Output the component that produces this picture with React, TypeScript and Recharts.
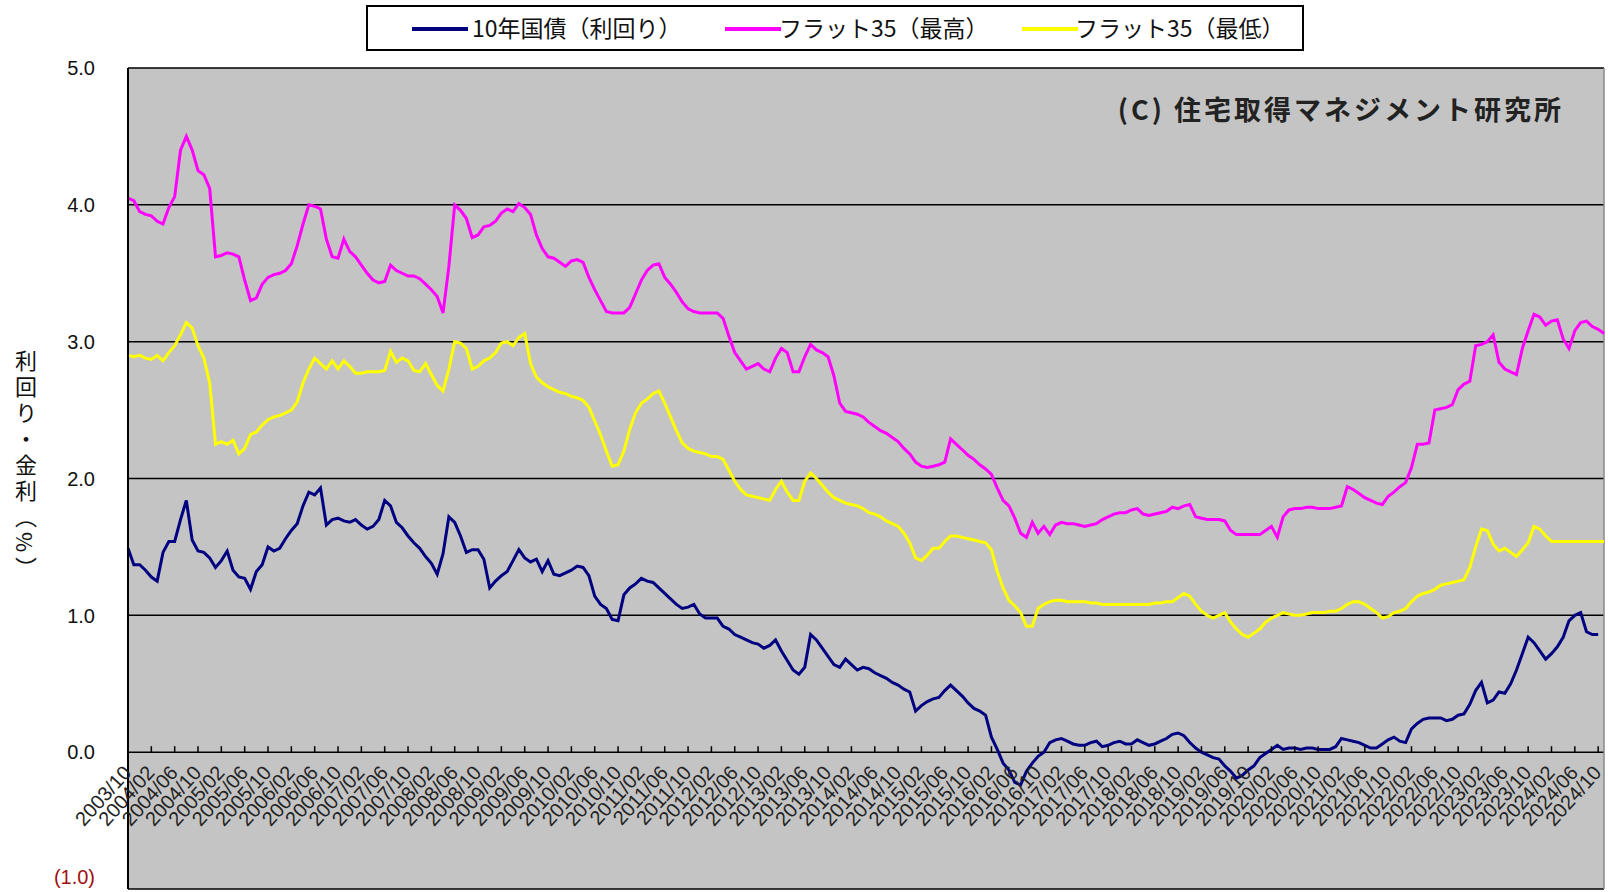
import { CartesianGrid, Line, LineChart, ReferenceLine, XAxis, YAxis } from "recharts";

// monthly categories, 2003/10 .. 2024/11
const months: string[] = [];
for (let i = 0; i < 254; i++) {
  const k = 9 + i;
  const y = 2003 + Math.floor(k / 12);
  const mo = (k % 12) + 1;
  months.push(`${y}/${mo < 10 ? "0" + mo : mo}`);
}

// 10年国債（利回り）
const bond = [
  1.49, 1.37, 1.37, 1.33, 1.28, 1.25, 1.46, 1.54, 1.54, 1.70, 1.84, 1.55,
  1.47, 1.46, 1.42, 1.35, 1.40, 1.47, 1.33, 1.28, 1.27, 1.19, 1.32, 1.37,
  1.50, 1.47, 1.49, 1.56, 1.62, 1.67, 1.80, 1.90, 1.88, 1.93, 1.66, 1.70,
  1.71, 1.69, 1.68, 1.70, 1.66, 1.63, 1.65, 1.70, 1.84, 1.80, 1.68, 1.64,
  1.58, 1.53, 1.49, 1.43, 1.38, 1.30, 1.45, 1.72, 1.68, 1.58, 1.46, 1.48,
  1.48, 1.41, 1.20, 1.25, 1.29, 1.32, 1.40, 1.48, 1.42, 1.39, 1.41, 1.32,
  1.40, 1.30, 1.29, 1.31, 1.33, 1.36, 1.35, 1.29, 1.14, 1.08, 1.05, 0.97,
  0.96, 1.15, 1.20, 1.23, 1.27, 1.25, 1.24, 1.20, 1.16, 1.12, 1.08, 1.05,
  1.06, 1.08, 1.01, 0.98, 0.98, 0.98, 0.92, 0.90, 0.86, 0.84, 0.82, 0.80,
  0.79, 0.76, 0.78, 0.82, 0.74, 0.67, 0.60, 0.57, 0.62, 0.86, 0.82, 0.76,
  0.70, 0.64, 0.62, 0.68, 0.64, 0.60, 0.62, 0.61, 0.58, 0.56, 0.54, 0.51,
  0.49, 0.46, 0.44, 0.30, 0.34, 0.37, 0.39, 0.40, 0.45, 0.49, 0.45, 0.41,
  0.36, 0.32, 0.30, 0.27, 0.11, 0.02, -0.08, -0.13, -0.22, -0.24, -0.14, -0.08,
  -0.03, 0.00, 0.07, 0.09, 0.10, 0.08, 0.06, 0.05, 0.05, 0.07, 0.08, 0.04,
  0.05, 0.07, 0.08, 0.06, 0.06, 0.09, 0.07, 0.05, 0.06, 0.08, 0.10, 0.13,
  0.14, 0.12, 0.07, 0.03, 0.00, -0.02, -0.04, -0.05, -0.10, -0.14, -0.19, -0.17,
  -0.13, -0.10, -0.04, -0.01, 0.02, 0.05, 0.02, 0.03, 0.03, 0.02, 0.03, 0.03,
  0.02, 0.02, 0.02, 0.04, 0.10, 0.09, 0.08, 0.07, 0.05, 0.03, 0.03, 0.06,
  0.09, 0.11, 0.08, 0.07, 0.17, 0.21, 0.24, 0.25, 0.25, 0.25, 0.23, 0.24,
  0.27, 0.28, 0.35, 0.45, 0.51, 0.36, 0.38, 0.44, 0.43, 0.50, 0.60, 0.72,
  0.84, 0.80, 0.74, 0.68, 0.72, 0.77, 0.84, 0.96, 1.00, 1.02, 0.88, 0.86,
  0.86,
];

// フラット35（最高）
const high = [
  4.05, 4.03, 3.95, 3.93, 3.92, 3.88, 3.86, 3.98, 4.06, 4.40, 4.50, 4.40,
  4.25, 4.22, 4.12, 3.62, 3.63, 3.65, 3.64, 3.62, 3.45, 3.30, 3.32, 3.42,
  3.47, 3.49, 3.50, 3.52, 3.57, 3.70, 3.86, 4.00, 3.99, 3.97, 3.75, 3.62,
  3.61, 3.75, 3.66, 3.62, 3.56, 3.50, 3.45, 3.43, 3.44, 3.56, 3.52, 3.50,
  3.48, 3.48, 3.46, 3.42, 3.38, 3.33, 3.21, 3.55, 4.00, 3.96, 3.90, 3.76,
  3.78, 3.84, 3.85, 3.88, 3.94, 3.97, 3.95, 4.01, 3.98, 3.93, 3.78, 3.68,
  3.62, 3.61, 3.58, 3.55, 3.59, 3.60, 3.58, 3.47, 3.38, 3.30, 3.22, 3.21,
  3.21, 3.21, 3.25, 3.35, 3.45, 3.52, 3.56, 3.57, 3.47, 3.42, 3.36, 3.29,
  3.24, 3.22, 3.21, 3.21, 3.21, 3.21, 3.17, 3.04, 2.92, 2.86, 2.80, 2.82,
  2.84, 2.80, 2.78, 2.88, 2.95, 2.92, 2.78, 2.78, 2.89, 2.98, 2.94, 2.92,
  2.89, 2.75, 2.55, 2.49, 2.48, 2.47, 2.45, 2.41, 2.38, 2.35, 2.33, 2.30,
  2.27, 2.22, 2.18, 2.12, 2.09, 2.08, 2.09, 2.10, 2.12, 2.29, 2.25, 2.21,
  2.17, 2.14, 2.10, 2.07, 2.03, 1.93, 1.84, 1.80, 1.71, 1.60, 1.57, 1.68,
  1.60, 1.65, 1.59, 1.66, 1.68, 1.67, 1.67, 1.66, 1.65, 1.66, 1.67, 1.70,
  1.72, 1.74, 1.75, 1.75, 1.77, 1.78, 1.74, 1.73, 1.74, 1.75, 1.76, 1.79,
  1.78, 1.80, 1.81, 1.72, 1.71, 1.70, 1.70, 1.70, 1.69, 1.62, 1.59, 1.59,
  1.59, 1.59, 1.59, 1.62, 1.65, 1.57, 1.72, 1.77, 1.78, 1.78, 1.79, 1.79,
  1.78, 1.78, 1.78, 1.79, 1.80, 1.94, 1.92, 1.89, 1.86, 1.84, 1.82, 1.81,
  1.87, 1.90, 1.94, 1.97, 2.08, 2.25, 2.25, 2.26, 2.50, 2.51, 2.52, 2.54,
  2.65, 2.69, 2.71, 2.97, 2.98, 3.00, 3.05, 2.85, 2.80, 2.78, 2.76, 2.95,
  3.08, 3.20, 3.18, 3.12, 3.15, 3.16, 3.02, 2.95, 3.08, 3.14, 3.15, 3.11,
  3.09, 3.06,
];

// フラット35（最低）
const low = [
  2.90, 2.89, 2.90, 2.88, 2.87, 2.90, 2.86, 2.92, 2.97, 3.05, 3.14, 3.10,
  2.97, 2.88, 2.70, 2.25, 2.27, 2.25, 2.28, 2.18, 2.22, 2.32, 2.34, 2.39,
  2.43, 2.45, 2.46, 2.48, 2.50, 2.56, 2.70, 2.80, 2.88, 2.84, 2.80, 2.86,
  2.80, 2.86, 2.82, 2.77, 2.77, 2.78, 2.78, 2.78, 2.79, 2.93, 2.85, 2.88,
  2.86, 2.79, 2.78, 2.84, 2.76, 2.68, 2.64, 2.80, 3.00, 2.99, 2.95, 2.80,
  2.82, 2.86, 2.88, 2.92, 2.99, 3.00, 2.97, 3.03, 3.06, 2.84, 2.74, 2.70,
  2.67, 2.65, 2.63, 2.62, 2.60, 2.59, 2.57, 2.52, 2.42, 2.32, 2.20, 2.09,
  2.10, 2.20, 2.36, 2.48, 2.55, 2.58, 2.62, 2.64, 2.55, 2.45, 2.35, 2.26,
  2.22, 2.20, 2.19, 2.18, 2.16, 2.16, 2.14, 2.06, 1.98, 1.92, 1.88, 1.87,
  1.86, 1.85, 1.84, 1.92, 1.98, 1.90, 1.84, 1.84, 1.98, 2.04, 2.00, 1.95,
  1.90, 1.86, 1.84, 1.82, 1.81, 1.80, 1.78, 1.75, 1.74, 1.72, 1.69, 1.67,
  1.65, 1.60, 1.53, 1.42, 1.40, 1.44, 1.49, 1.49, 1.54, 1.58, 1.58, 1.57,
  1.56, 1.55, 1.54, 1.53, 1.48, 1.32, 1.20, 1.11, 1.07, 1.02, 0.92, 0.92,
  1.05, 1.08, 1.10, 1.11, 1.11, 1.10, 1.10, 1.10, 1.10, 1.09, 1.09, 1.08,
  1.08, 1.08, 1.08, 1.08, 1.08, 1.08, 1.08, 1.08, 1.09, 1.09, 1.10, 1.10,
  1.13, 1.16, 1.14, 1.08, 1.03, 1.00, 0.98, 1.00, 1.02, 0.95, 0.90, 0.86,
  0.84, 0.87, 0.90, 0.95, 0.98, 1.00, 1.02, 1.01, 1.00, 1.00, 1.01, 1.02,
  1.02, 1.02, 1.03, 1.03, 1.05, 1.08, 1.10, 1.10, 1.08, 1.05, 1.02, 0.98,
  0.99, 1.02, 1.03, 1.05, 1.10, 1.14, 1.16, 1.17, 1.19, 1.22, 1.23, 1.24,
  1.25, 1.26, 1.35, 1.50, 1.63, 1.62, 1.52, 1.47, 1.49, 1.46, 1.43, 1.48,
  1.53, 1.65, 1.63, 1.58, 1.54, 1.54, 1.54, 1.54, 1.54, 1.54, 1.54, 1.54,
  1.54, 1.54,
];

const yTicks = [-1, 0, 1, 2, 3, 4, 5];

const seriesNames = ["10年国債（利回り）", "フラット35（最高）", "フラット35（最低）"];
const seriesColors = ["#000080", "#ff00ff", "#ffff00"];

const data = months.map((m, i) => ({
  m,
  bond: bond[i] ?? null,
  high: high[i] ?? null,
  low: low[i] ?? null,
}));

const W = 1608;
const H = 892;
const TOP = 68;
const BOTTOM = 1;
const X_H = 2;
const PLOT_H = H - TOP - BOTTOM - X_H;
const ZERO_Y = TOP + (PLOT_H * 5) / 6; // category axis crosses at 0.0

const fmtY = (v: number) => (v < 0 ? `(${Math.abs(v).toFixed(1)})` : v.toFixed(1));

function YTick(props: any) {
  const { x, y, payload } = props;
  const v = payload.value as number;
  return (
    <text
      x={x}
      y={v < 0 ? y - 12 : y}
      dy="0.36em"
      textAnchor="end"
      fontSize={20}
      fontFamily="Liberation Sans, sans-serif"
      fill={v < 0 ? "#a01010" : "#111"}
    >
      {fmtY(v)}
    </text>
  );
}

function XTick(props: any) {
  const { x, payload } = props;
  const ty = ZERO_Y + 12;
  const tx = x - 6;
  return (
    <g>
      <line x1={x} x2={x} y1={ZERO_Y} y2={ZERO_Y - 6} stroke="#000" strokeWidth={1.5} />
      <text
        x={tx}
        y={ty}
        transform={`rotate(-48 ${tx} ${ty})`}
        textAnchor="end"
        dy="0.7em"
        fontSize={20}
        fontFamily="Liberation Sans, sans-serif"
        fill="#222"
      >
        {payload.value}
      </text>
    </g>
  );
}

function LegendBox() {
  const items = [
    { sx: 44, tx: 104 },
    { sx: 357, tx: 411 },
    { sx: 654, tx: 707 },
  ];
  return (
    <div
      style={{
        position: "absolute",
        left: 366,
        top: 5,
        width: 938,
        height: 46,
        boxSizing: "border-box",
        border: "2px solid #000",
        background: "#fff",
        fontFamily: '"Noto Sans CJK JP", sans-serif',
        fontSize: 23,
        color: "#111",
      }}
    >
      {items.map((it, i) => (
        <div key={i}>
          <div
            style={{
              position: "absolute",
              left: it.sx,
              top: 20,
              width: 56,
              height: 4,
              background: seriesColors[i],
            }}
          />
          <div style={{ position: "absolute", left: it.tx, top: 5, whiteSpace: "nowrap", lineHeight: "30px" }}>
            {seriesNames[i]}
          </div>
        </div>
      ))}
    </div>
  );
}

export default function App() {
  return (
    <div style={{ position: "relative", width: W, height: H, background: "#fff", overflow: "hidden" }}>
      <style>{`body{margin:0}`}</style>
      <LineChart width={W} height={H} data={data} margin={{ top: TOP, right: 4, left: 0, bottom: BOTTOM }}>
        <CartesianGrid vertical={false} stroke="#000" strokeWidth={1.5} fill="#c4c4c4" fillOpacity={1} />
        <XAxis
          dataKey="m"
          interval={3}
          height={X_H}
          axisLine={false}
          tickLine={false}
          tick={<XTick />}
        />
        <YAxis
          domain={[-1, 5]}
          ticks={yTicks}
          width={128}
          tickMargin={27}
          tickLine={false}
          axisLine={{ stroke: "#000", strokeWidth: 2 }}
          tick={<YTick />}
          interval={0}
          allowDataOverflow
        />
        <ReferenceLine x={months[months.length - 1]} stroke="#8a8a8a" strokeWidth={1.5} />
        <Line type="linear" dataKey="bond" name={seriesNames[0]} stroke={seriesColors[0]} strokeWidth={3} dot={false} isAnimationActive={false} />
        <Line type="linear" dataKey="high" name={seriesNames[1]} stroke={seriesColors[1]} strokeWidth={3} dot={false} isAnimationActive={false} />
        <Line type="linear" dataKey="low" name={seriesNames[2]} stroke={seriesColors[2]} strokeWidth={3} dot={false} isAnimationActive={false} />
      </LineChart>
      <LegendBox />
      <div
        style={{
          position: "absolute",
          left: 900,
          width: 664,
          top: 89,
          textAlign: "right",
          fontFamily: '"Noto Sans CJK JP", serif',
          fontWeight: 700,
          fontSize: 27,
          letterSpacing: 3,
          color: "#222",
          whiteSpace: "nowrap",
        }}
      >
        (C) 住宅取得マネジメント研究所
      </div>
      <div
        style={{
          position: "absolute",
          left: 10,
          top: 350,
          writingMode: "vertical-rl",
          fontFamily: '"Noto Sans CJK JP", sans-serif',
          fontSize: 22,
          letterSpacing: 4,
          color: "#111",
        }}
      >
        利回り・金利（%）
      </div>
    </div>
  );
}
